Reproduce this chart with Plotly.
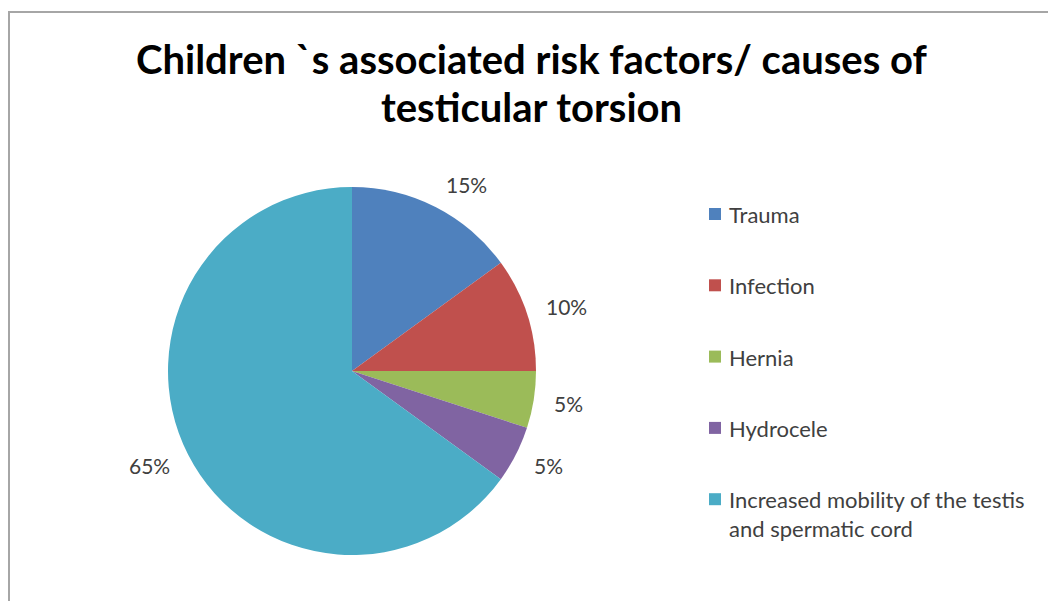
import math
import plotly.graph_objects as go

W, H = 1048, 601

# Chart data
categories = ["Trauma", "Infection", "Hernia", "Hydrocele",
              "Increased mobility of the testis and spermatic cord"]
legend_labels = ["Trauma", "Infection", "Hernia", "Hydrocele",
                 "Increased mobility of the testis<br>and spermatic cord"]
percent_values = [15, 10, 5, 5, 65]
slice_colors = ["#4F81BD", "#C0504D", "#9BBB59", "#8064A2", "#4BACC6"]
title_lines = ["Children `s associated risk factors/ causes of",
               "testicular torsion"]

TEXT_FONT = "Lato"
TEXT_GRAY = "#404040"


def px(x):
    return x / W


def py(y):
    return 1 - y / H


# Pie geometry (pixels)
cx, cy, r = 352, 371, 184

fig = go.Figure(go.Pie(
    labels=categories,
    values=percent_values,
    marker=dict(colors=slice_colors, line=dict(width=0)),
    sort=False,
    direction="clockwise",
    rotation=0,
    textinfo="none",
    hoverinfo="label+percent",
    showlegend=False,
    domain=dict(x=[px(cx - r), px(cx + r)], y=[py(cy + r), py(cy - r)]),
))

annotations = []

# Percentage labels: the label's nearest side sits just outside the
# slice, along the slice's mid angle
total = sum(percent_values)
start = 0.0
label_r = 202
label_h = 14
for v in percent_values:
    mid = (start + v / 2) / total * 2 * math.pi
    start += v
    s, c = math.sin(mid), math.cos(mid)
    lx = cx + label_r * s
    ly = cy - label_r * c - label_h / 2 * c
    annotations.append(dict(
        x=px(lx), y=py(ly), xref="paper", yref="paper",
        text=f"{v / total * 100:.0f}%", showarrow=False,
        xanchor="left" if s >= 0 else "right", yanchor="middle",
        font=dict(family=TEXT_FONT, size=21, color=TEXT_GRAY),
    ))

# Legend drawn as colored squares with labels
shapes = []
leg_y0, leg_step = 214, 71.3
leg_size = 22
for i, (lab, col) in enumerate(zip(legend_labels, slice_colors)):
    yc = leg_y0 + i * leg_step
    shapes.append(dict(
        type="rect", xref="paper", yref="paper",
        x0=px(709), x1=px(721), y0=py(yc + 6), y1=py(yc - 6),
        fillcolor=col, line=dict(width=0),
    ))
    annotations.append(dict(
        x=px(727), y=py(yc - leg_size * 0.68), xref="paper", yref="paper",
        text=lab, showarrow=False, align="left",
        xanchor="left", yanchor="top",
        font=dict(family=TEXT_FONT, size=leg_size, color=TEXT_GRAY),
    ))

# Title, one annotation per line
for line, ty in zip(title_lines, [59, 107]):
    annotations.append(dict(
        x=px(531), y=py(ty), xref="paper", yref="paper",
        text=f"<b>{line}</b>",
        showarrow=False, xanchor="center", yanchor="middle",
        font=dict(family=TEXT_FONT, size=40, color="#000000"),
    ))

# Chart area frame
shapes.append(dict(
    type="rect", xref="paper", yref="paper",
    x0=px(9), x1=1.1, y0=-0.1, y1=py(12),
    line=dict(color="#A6A6A6", width=2), fillcolor="rgba(0,0,0,0)",
))

fig.update_layout(
    width=W, height=H,
    margin=dict(l=0, r=0, t=0, b=0),
    paper_bgcolor="white", plot_bgcolor="white",
    annotations=annotations, shapes=shapes,
)

fig.write_html("out.html")
